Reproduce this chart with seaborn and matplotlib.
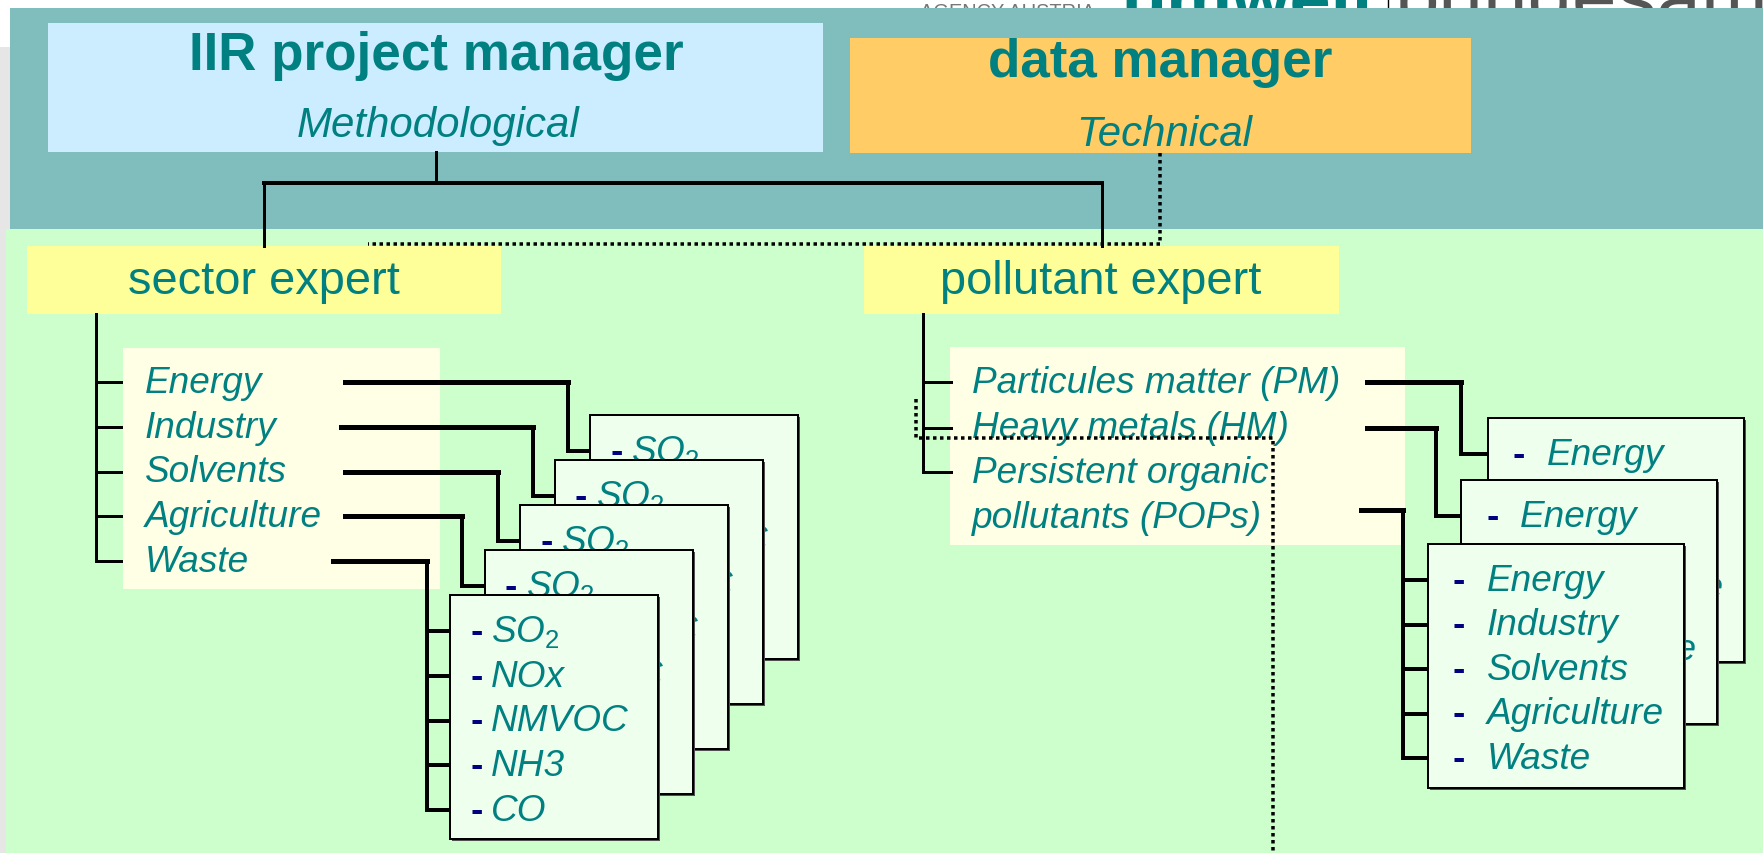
import matplotlib
matplotlib.use("Agg")
import matplotlib.pyplot as plt
import seaborn as sns
from matplotlib.patches import Rectangle

sns.set_style("white")
plt.rcParams['font.family'] = ['Liberation Sans', 'DejaVu Sans']
plt.rcParams['mathtext.fontset'] = 'custom'
plt.rcParams['mathtext.rm'] = 'Liberation Sans'
plt.rcParams['mathtext.it'] = 'Liberation Sans:italic'

# ---------------- content ----------------
manager_titles = ["IIR project manager", "data manager"]
manager_roles = ["Methodological", "Technical"]
expert_titles = ["sector expert", "pollutant expert"]
sectors = ["Energy", "Industry", "Solvents", "Agriculture", "Waste"]
pollutants = ["SO$_2$", "NOx", "NMVOC", "NH3", "CO"]
pollutant_groups = ["Particules matter (PM)", "Heavy metals (HM)",
                    "Persistent organic\npollutants (POPs)"]
logo_words = ["AGENCY AUSTRIA", "umwelt", "bundesamt"]

# ---------------- colours ----------------
TEAL = '#008080'
NAVY = '#000080'
BAND = '#80BDBD'
GREEN = '#CCFFCC'
LBLUE = '#CCECFF'
ORANGE = '#FFCC66'
YELLOW = '#FFFF99'
IVORY = '#FFFFE6'
CARD = '#EEFFEE'

W, H = 1763, 854
fig = plt.figure(figsize=(W / 100, H / 100), dpi=100)
ax = fig.add_axes([0, 0, 1, 1])
ax.set_xlim(0, W)
ax.set_ylim(H, 0)
ax.axis('off')

PT = 0.72  # px -> pt


def rect(x0, y0, x1, y1, fc, ec='none', lw=0, z=1):
    ax.add_patch(Rectangle((x0, y0), x1 - x0, y1 - y0, facecolor=fc,
                           edgecolor=ec, linewidth=lw * PT, zorder=z))


def line(xs, ys, lw=3, z=3, ls='-'):
    ax.plot(xs, ys, color='black', lw=lw * PT, ls=ls, zorder=z,
            solid_capstyle='projecting', solid_joinstyle='miter',
            dash_capstyle='butt')


def txt(x, y, s, size_px, ha='left', color=TEAL, style='normal',
        weight='normal', z=5, **kw):
    ax.text(x, y, s, ha=ha, va='baseline', fontsize=size_px * PT,
            color=color, style=style, weight=weight, zorder=z, **kw)


def card(x0, y0, w, h, z):
    rect(x0 + 2, y0 + 2, x0 + w + 2, y0 + h + 2, '#505050', z=z - 0.1)
    rect(x0, y0, x0 + w, y0 + h, CARD, ec='black', lw=2, z=z)


# ---------------- logo (mostly hidden behind band) ----------------
txt(920, 18, logo_words[0], 20, color='#777777', z=0.8)
txt(1121, 24, logo_words[1], 74, weight='bold', z=0.8)
ax.plot([1388, 1388], [0, 9], color='black', lw=1, zorder=0.8)
txt(1395, 24, logo_words[2], 80, color='#555555', weight='light', z=0.8)

# ---------------- backgrounds ----------------
rect(0, 48, 10, H, '#E6E6E6', z=0.5)
rect(10, 9, W, 230, BAND, z=1)
rect(6, 230, W, H, GREEN, z=1)

# ---------------- managers ----------------
rect(48, 24, 823, 153, LBLUE, z=2)
rect(850, 39, 1471, 154, ORANGE, z=2)
txt(436, 70, manager_titles[0], 53, ha='center', weight='bold')
txt(1160, 77, manager_titles[1], 53, ha='center', weight='bold')
txt(438, 137, manager_roles[0], 42, ha='center', style='italic')
txt(1164, 146, manager_roles[1], 42, ha='center', style='italic')

line([436, 436], [153, 184], lw=3)
line([264, 1102], [184, 184], lw=4)
line([264, 264], [184, 247], lw=3)
line([1102, 1102], [184, 247], lw=3)
line([1160, 1160, 368], [154, 245, 245], lw=3.5, ls=(0, (1, 1)), z=6)

# ---------------- experts ----------------
rect(27, 247, 501, 315, YELLOW, z=2)
rect(864, 247, 1339, 315, YELLOW, z=2)
txt(264, 294, expert_titles[0], 47, ha='center')
txt(1101, 294, expert_titles[1], 47, ha='center')

# ---------------- sector branch ----------------
rect(123, 349, 440, 590, IVORY, z=2)
s_rows = [383 + 44.75 * i for i in range(len(sectors))]
line([96, 96], [315, s_rows[-1]], lw=3)
for i, (name, y) in enumerate(zip(sectors, s_rows)):
    line([96, 121], [y, y], lw=3)
    txt(145, y + 10, name, 37, style='italic')

h_start = [345, 341, 345, 345, 333]
v_x = [568, 533, 498, 462, 427]
box_w, box_h = 208, 244
for i in range(len(sectors)):
    left = 590 - 35 * i
    top = 416 + 45 * i
    y = s_rows[i]
    line([h_start[i], v_x[i]], [y, y], lw=5, z=3)
    rows = [top + 36 + 44.75 * k for k in range(len(pollutants))]
    if i < len(sectors) - 1:
        line([v_x[i], v_x[i]], [y, rows[0]], lw=4, z=3)
        line([v_x[i], left], [rows[0], rows[0]], lw=4, z=3)
    else:
        line([v_x[i], v_x[i]], [y, rows[-1]], lw=4, z=3)
        for r in rows:
            line([v_x[i], left], [r, r], lw=4, z=3)
    zc = 10 + 2 * i
    card(left, top, box_w, box_h, zc)
    for k, (p, r) in enumerate(zip(pollutants, rows)):
        txt(left + 20, r + 10, '-', 37, color=NAVY, weight='bold', z=zc + 1)
        txt(left + 41, r + 10, p, 37, style='italic', z=zc + 1)

# ---------------- pollutant branch ----------------
rect(950, 348, 1405, 546, IVORY, z=2)
p_rows = [383, 428.5, 473]
line([923, 923], [315, p_rows[-1]], lw=3)
for i, (grp, y) in enumerate(zip(pollutant_groups, p_rows)):
    line([923, 951], [y, y], lw=3)
    for j, part in enumerate(grp.split('\n')):
        txt(972, y + 10 + 45 * j, part, 37, style='italic')

ph_start = [1367, 1367, 1361]
ph_y = [383, 428.5, 511]
pv_x = [1461, 1436, 1403]
p_left = [1488, 1461, 1428]
p_top = [419, 481, 545]
pw, ph = 256, 244
for i in range(len(pollutant_groups)):
    left, top = p_left[i], p_top[i]
    rows = [top + 36 + 44.5 * k for k in range(len(sectors))]
    line([ph_start[i], pv_x[i]], [ph_y[i], ph_y[i]], lw=5, z=3)
    if i < len(pollutant_groups) - 1:
        line([pv_x[i], pv_x[i]], [ph_y[i], rows[0]], lw=4, z=3)
        line([pv_x[i], left], [rows[0], rows[0]], lw=4, z=3)
    else:
        line([pv_x[i], pv_x[i]], [ph_y[i], rows[-1]], lw=4, z=3)
        for r in rows:
            line([pv_x[i], left], [r, r], lw=4, z=3)
    zc = 10 + 2 * i
    card(left, top, pw, ph, zc)
    for k, (s, r) in enumerate(zip(sectors, rows)):
        txt(left + 25, r + 10, '-', 37, color=NAVY, weight='bold', z=zc + 1)
        txt(left + 59, r + 10, s, 37, style='italic', z=zc + 1)

# dotted link on pollutant side
line([916, 916, 1273, 1273], [400, 439, 439, H], lw=3.5, ls=(0, (1, 1)), z=30)

fig.savefig('out.png', dpi=100)
